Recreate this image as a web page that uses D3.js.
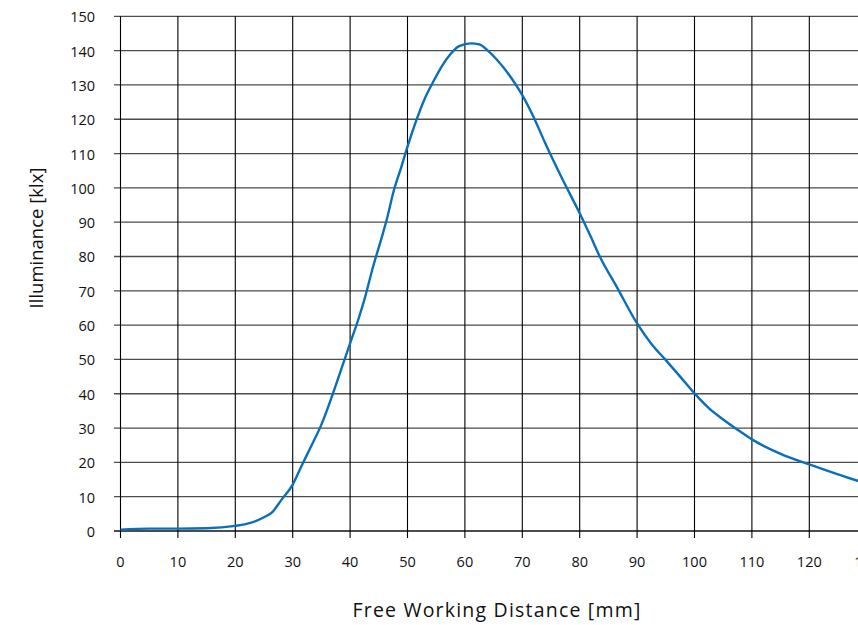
<!DOCTYPE html>
<html>
<head>
<meta charset="utf-8">
<script src="https://cdn.jsdelivr.net/npm/d3@7"></script>
<style>
  body { margin: 0; background: #fff; overflow: hidden; }
  text { font-family: "Open Sans", "Noto Sans", sans-serif; fill: #111; }
</style>
</head>
<body>
<svg id="chart"></svg>
<script>
// free working distance [mm] vs illuminance [klx]
const distance = [0, 5, 10, 15, 20, 22.5, 25, 26.5, 28, 30, 31.5, 33, 35, 37, 39, 40, 41.5, 42.5, 44, 45.5, 46.5, 47.5, 49, 50,
  51.5, 53, 54.5, 56, 57.5, 59, 61, 62.5, 64, 65.5, 67, 68.5, 70, 72, 74, 77, 80, 82, 83.5, 86.5, 90, 92.5, 95, 97.5, 100,
  102.5, 105, 107.5, 110, 115, 120, 125, 130]
const illuminance = [0.4, 0.7, 0.7, 0.8, 1.5, 2.3, 4, 5.6, 9, 13.5, 18.8, 24, 31, 40, 49.8, 54.7, 62, 67.5, 77, 85.5, 91.5, 98.5, 106.5, 112,
  119.5, 126, 131, 135.5, 139, 141.3, 142.1, 141.8, 140, 137.5, 134.5, 131, 127, 120.5, 113, 102.5, 92.6, 85.5, 80, 71, 60.5, 54.5, 49.8, 45, 40.1,
  35.8, 32.5, 29.5, 26.7, 22.5, 19.4, 16.5, 13.8]
const xTicks = d3.range(0, 131, 10)
const yTicks = d3.range(0, 151, 10)

const W = 858, H = 625
const svg = d3.select('#chart').attr('width', W).attr('height', H)

const x = d3.scaleLinear().domain([0, 130]).range([120.5, 866.7])
const y = d3.scaleLinear().domain([0, 150]).range([531, 16.3])

// horizontal grid (grey) with ticks sticking out on the left
svg.append('g').selectAll('line').data(yTicks).join('line')
  .attr('x1', 114).attr('x2', x(130))
  .attr('y1', d => y(d)).attr('y2', d => y(d))
  .attr('stroke', d => d === 0 ? '#111' : '#4d4d4d').attr('stroke-width', 1.3)

// vertical grid (black) with ticks below the base line
svg.append('g').selectAll('line').data(xTicks).join('line')
  .attr('x1', d => x(d)).attr('x2', d => x(d))
  .attr('y1', y(150)).attr('y2', y(0) + 7)
  .attr('stroke', '#000').attr('stroke-width', 1.1)

svg.append('g').selectAll('text').data(yTicks).join('text')
  .attr('x', 95).attr('y', d => y(d) + 6)
  .attr('text-anchor', 'end').attr('font-size', 14.5)
  .text(d => d)

svg.append('g').selectAll('text').data(xTicks).join('text')
  .attr('x', d => x(d)).attr('y', 567)
  .attr('text-anchor', 'middle').attr('font-size', 14.5)
  .text(d => d)

const line = d3.line()
  .x((d, i) => x(distance[i]))
  .y(d => y(d))
  .curve(d3.curveMonotoneX)

svg.append('path').datum(illuminance)
  .attr('d', line)
  .attr('fill', 'none')
  .attr('stroke', '#0b6fb8')
  .attr('stroke-width', 2.4)

svg.append('text')
  .attr('x', 497).attr('y', 617)
  .attr('text-anchor', 'middle').attr('font-size', 19.5)
  .attr('letter-spacing', 1.2)
  .text('Free Working Distance [mm]')

svg.append('text')
  .attr('transform', 'translate(43,238) rotate(-90)')
  .attr('text-anchor', 'middle').attr('font-size', 18.5)
  .text('Illuminance [klx]')
</script>
</body>
</html>
